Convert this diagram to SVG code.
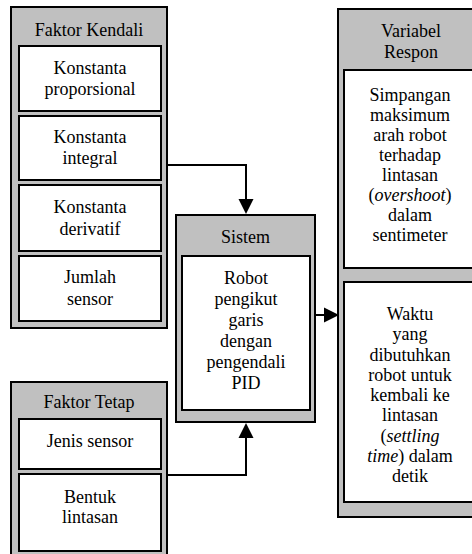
<svg xmlns="http://www.w3.org/2000/svg" width="472" height="554" viewBox="0 0 472 554" font-family="Liberation Serif, Times New Roman, serif" font-size="18">
<style>
.outer{fill:#c0c0c0;stroke:#000;stroke-width:2}
.inner{fill:#fff;stroke:#000;stroke-width:2}
.t{fill:#000;text-anchor:middle}
.conn{fill:none;stroke:#000;stroke-width:2}
</style>
<rect width="472" height="554" fill="#fff"/>

<g id="faktor-kendali" class="t">
<rect class="outer" x="11" y="7" width="156" height="321"/>
<text x="89" y="36">Faktor Kendali</text>
<rect class="inner" x="19" y="46" width="142" height="65"/>
<text x="90" y="74">Konstanta</text>
<text x="90" y="95">proporsional</text>
<rect class="inner" x="19" y="116" width="142" height="64"/>
<text x="90" y="143">Konstanta</text>
<text x="90" y="164">integral</text>
<rect class="inner" x="19" y="185" width="142" height="66"/>
<text x="90" y="213">Konstanta</text>
<text x="90" y="235">derivatif</text>
<rect class="inner" x="19" y="256" width="142" height="65"/>
<text x="90" y="283">Jumlah</text>
<text x="90" y="305">sensor</text>
</g>

<g id="faktor-tetap" class="t">
<rect class="outer" x="11" y="382" width="156" height="176"/>
<text x="89" y="408">Faktor Tetap</text>
<rect class="inner" x="19" y="419" width="142" height="50"/>
<text x="90" y="447">Jenis sensor</text>
<rect class="inner" x="19" y="474" width="142" height="77"/>
<text x="90" y="503">Bentuk</text>
<text x="90" y="523">lintasan</text>
</g>

<g id="sistem" class="t">
<rect class="outer" x="176" y="215" width="139" height="207"/>
<text x="245.5" y="243">Sistem</text>
<rect class="inner" x="182" y="256" width="128" height="154"/>
<text x="246" y="284">Robot</text>
<text x="246" y="305">pengikut</text>
<text x="246" y="326">garis</text>
<text x="246" y="347">dengan</text>
<text x="246" y="368">pengendali</text>
<text x="246" y="389">PID</text>
</g>

<g id="variabel-respon" class="t">
<rect class="outer" x="338" y="9" width="146" height="508"/>
<text x="411" y="37">Variabel</text>
<text x="411" y="58">Respon</text>
<rect class="inner" x="344" y="70" width="132" height="198"/>
<text x="410" y="101">Simpangan</text>
<text x="410" y="121">maksimum</text>
<text x="410" y="141">arah robot</text>
<text x="410" y="161">terhadap</text>
<text x="410" y="181">lintasan</text>
<text x="410" y="201">(<tspan font-style="italic">overshoot</tspan>)</text>
<text x="410" y="221">dalam</text>
<text x="410" y="241">sentimeter</text>
<rect class="inner" x="344" y="282" width="132" height="220"/>
<text x="410" y="320">Waktu</text>
<text x="410" y="340">yang</text>
<text x="410" y="361">dibutuhkan</text>
<text x="410" y="381">robot untuk</text>
<text x="410" y="401">kembali ke</text>
<text x="410" y="421">lintasan</text>
<text x="410" y="442">(<tspan font-style="italic">settling</tspan></text>
<text x="410" y="462"><tspan font-style="italic">time</tspan>) dalam</text>
<text x="410" y="482">detik</text>
</g>

<g id="connectors">
<path class="conn" d="M167,165 H246 V200"/>
<path d="M238.5,199 L253.5,199 L246,214 Z" fill="#000"/>
<path class="conn" d="M167,475 H246 V437"/>
<path d="M238.5,438 L253.5,438 L246,423 Z" fill="#000"/>
<path class="conn" d="M315,315 H326"/>
<path d="M324,307.5 L324,322.5 L339,315 Z" fill="#000"/>
</g>
</svg>
